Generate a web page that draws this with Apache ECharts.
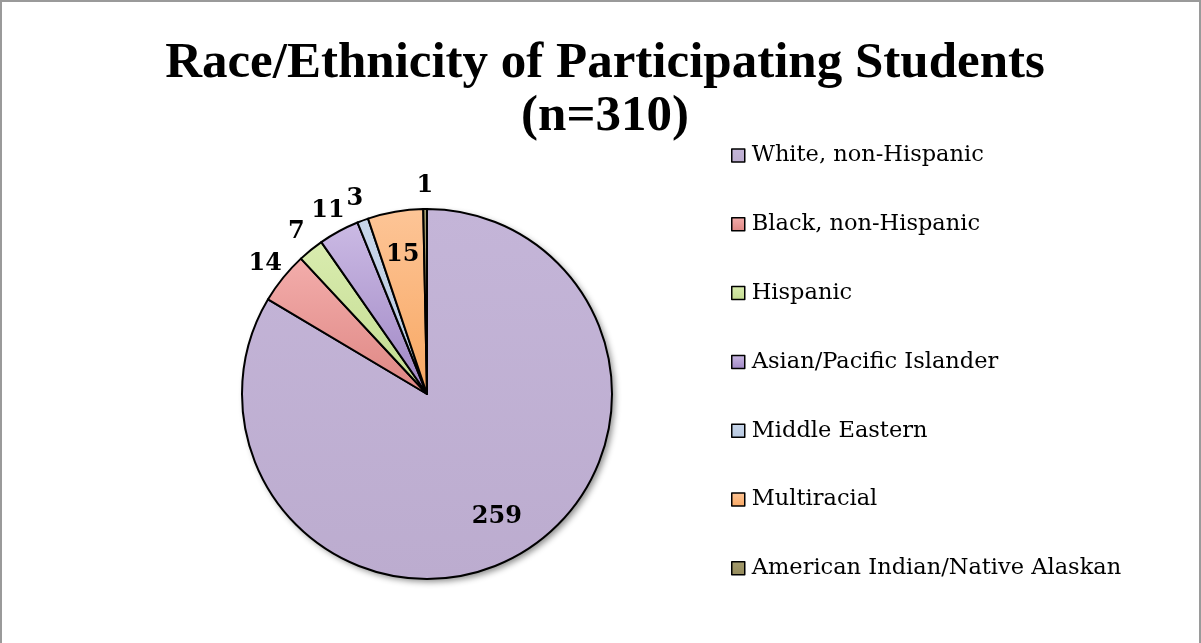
<!DOCTYPE html>
<html>
<head>
<meta charset="utf-8">
<script src="https://cdn.jsdelivr.net/npm/echarts@6/dist/echarts.min.js"></script>
<style>
html,body{margin:0;padding:0;background:#fff;}
#frame{position:absolute;left:0;top:0;width:1201px;height:643px;box-sizing:border-box;border-top:2px solid #9a9a9a;border-left:2px solid #9a9a9a;border-right:2px solid #9a9a9a;}
#chart{position:absolute;left:0;top:0;width:1201px;height:643px;}
</style>
</head>
<body>
<div id="frame"></div>
<div id="chart"></div>
<script>
const categories = ['White, non-Hispanic','Black, non-Hispanic','Hispanic','Asian/Pacific Islander','Middle Eastern','Multiracial','American Indian/Native Alaskan'];
const counts = [259, 14, 7, 11, 3, 15, 1];
const titleLines = ['Race/Ethnicity of Participating Students', '(n=310)'];

const topColors = ['#c4b5d8','#f3adab','#d9ecaf','#cbbae4','#c8d6ea','#fdc597','#a49c6e'];
const bottomColors = ['#bcaccf','#de8683','#c2da8f','#9f86c4','#b7c8e0','#f8a762','#948a5b'];
const insideLabel = [true,false,false,false,false,true,false];

const chart = echarts.init(document.getElementById('chart'), null, {renderer:'canvas'});
const total = counts.reduce((a,b)=>a+b,0);
const titleFont = '"Liberation Serif", serif';
const bodyFont = '"DejaVu Serif", serif';
const center = [427, 394];

const mainData = categories.map((n,i)=>({
  name:n, value:counts[i],
  itemStyle:{color:new echarts.graphic.LinearGradient(0,0,0,1,[{offset:0,color:topColors[i]},{offset:1,color:bottomColors[i]}])}
}));
const innerLabelData = categories.map((n,i)=>({name:n, value:counts[i], label:{show:insideLabel[i]}}));
const outerLabelData = categories.map((n,i)=>({name:n, value:counts[i], label:{show:!insideLabel[i]}}));
const labelStyle = {position:'inside', formatter:'{c}', fontFamily:bodyFont, fontWeight:'bold', fontSize:24, color:'#000'};

chart.setOption({
  animation:false,
  title:{
    text:titleLines.join('\n'),
    left:600, textAlign:'center', top:32,
    textStyle:{fontFamily:titleFont, fontWeight:'bold', fontSize:51, lineHeight:53, color:'#000'}
  },
  legend:{
    orient:'vertical', left:726, top:139,
    padding:5,
    data:categories,
    icon:'rect', itemWidth:13, itemHeight:13, itemGap:45.8,
    itemStyle:{borderColor:'#000', borderWidth:1.5},
    textStyle:{fontFamily:bodyFont, fontSize:22.5, color:'#000', padding:[0,0,0,2]},
    selectedMode:false
  },
  series:[
    {
      type:'pie', center:center, radius:185, silent:true, z:1,
      label:{show:false}, labelLine:{show:false},
      data:[{name:'_total', value:total, itemStyle:{color:'#fff', shadowBlur:6, shadowOffsetX:3, shadowOffsetY:3, shadowColor:'rgba(0,0,0,0.45)'}}]
    },
    {
      type:'pie', center:center, radius:185, startAngle:90, clockwise:true, z:2,
      silent:true,
      itemStyle:{borderColor:'#000', borderWidth:2},
      label:{show:false}, labelLine:{show:false},
      data:mainData
    },
    {
      type:'pie', center:center, radius:[92,185], startAngle:90, clockwise:true, z:3, silent:true,
      itemStyle:{color:'rgba(0,0,0,0)', borderWidth:0},
      label:labelStyle, labelLine:{show:false},
      data:innerLabelData
    },
    {
      type:'pie', center:center, radius:[185,225], startAngle:90, clockwise:true, z:3, silent:true,
      itemStyle:{color:'rgba(0,0,0,0)', borderWidth:0},
      label:labelStyle, labelLine:{show:false},
      data:outerLabelData
    }
  ]
});
</script>
</body>
</html>
